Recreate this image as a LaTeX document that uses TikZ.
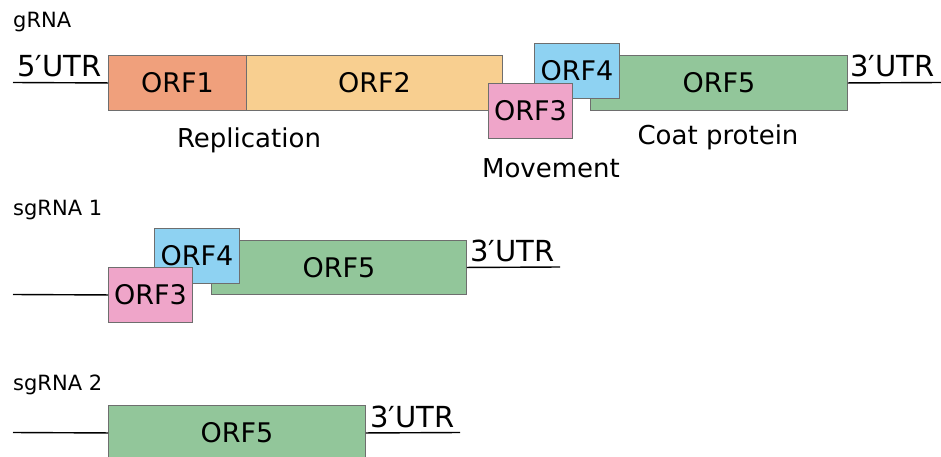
\documentclass[tikz,border=0pt]{standalone}
\usepackage{fontspec}
\setmainfont{DejaVu Sans}
\definecolor{cOne}{HTML}{F0A07C}
\definecolor{cTwo}{HTML}{F8CF90}
\definecolor{cThree}{HTML}{EFA5C9}
\definecolor{cFour}{HTML}{8ED2F2}
\definecolor{cFive}{HTML}{92C69A}
\definecolor{edge}{HTML}{6E6E6E}
\tikzset{
  orf/.style={draw=edge, line width=0.9pt, rectangle, anchor=north west, inner sep=0pt,
    minimum height=55pt, font=\fontsize{27}{27}\selectfont, text=black},
  rna/.style={line width=1.4pt, black},
  utrlabel/.style={anchor=south west, inner sep=0pt, font=\fontsize{29}{29}\selectfont},
  funclabel/.style={anchor=center, inner sep=0pt, font=\fontsize{26}{26}\selectfont},
  rowlabel/.style={anchor=west, inner sep=0pt, font=\fontsize{21}{21}\selectfont}
}
\begin{document}
\begin{tikzpicture}[x=1pt,y=-1pt]
\useasboundingbox (0,0) rectangle (941,456);
% ---------- gRNA ----------
\node[rowlabel] (lg) at (13,22) {gRNA};
\node[orf, fill=cOne, minimum width=138pt] (g1) at (108,55) {ORF1};
\node[orf, fill=cTwo, minimum width=256pt] (g2) at (246,55) {ORF2};
\node[orf, fill=cFive, minimum width=257pt] (g5) at (590,55) {ORF5};
\node[orf, fill=cFour, minimum width=85pt] (g4) at (534,43) {ORF4};
\node[orf, fill=cThree, minimum width=84pt] (g3) at (488,83) {ORF3};
\coordinate (g5l) at (13,82.5);
\coordinate (g3r) at (941,82.5);
\draw[rna] (g5l) -- (g1.west);
\draw[rna] (g5.east) -- (g3r);
\node[utrlabel] (g5t) at (17,77) {5′UTR};
\node[utrlabel] (g3t) at (850,77) {3′UTR};
\node[funclabel] (rep) at (249,140) {Replication};
\node[funclabel] (mov) at (551,168) {Movement};
\node[funclabel] (coat) at (718,137) {Coat protein};
% ---------- sgRNA 1 ----------
\node[rowlabel] (ls1) at (13,210) {sgRNA 1};
\node[orf, fill=cFive, minimum width=255pt, minimum height=54pt] (s5) at (211,240) {ORF5};
\node[orf, fill=cFour, minimum width=85pt] (s4) at (154,228) {ORF4};
\node[orf, fill=cThree, minimum width=84pt] (s3) at (108,267) {ORF3};
\coordinate (s1l) at (13,294.5);
\coordinate (s1r) at (560,267);
\draw[rna] (s1l) -- (s3.west);
\draw[rna] (s5.east) -- (s1r);
\node[utrlabel] (s1t) at (470,262) {3′UTR};
% ---------- sgRNA 2 ----------
\node[rowlabel] (ls2) at (13,385) {sgRNA 2};
\node[orf, fill=cFive, minimum width=257pt] (t5) at (108,405) {ORF5};
\coordinate (s2l) at (13,432.5);
\coordinate (s2r) at (460,432.5);
\draw[rna] (s2l) -- (t5.west);
\draw[rna] (t5.east) -- (s2r);
\node[utrlabel] (s2t) at (370,428) {3′UTR};
\end{tikzpicture}
\end{document}
